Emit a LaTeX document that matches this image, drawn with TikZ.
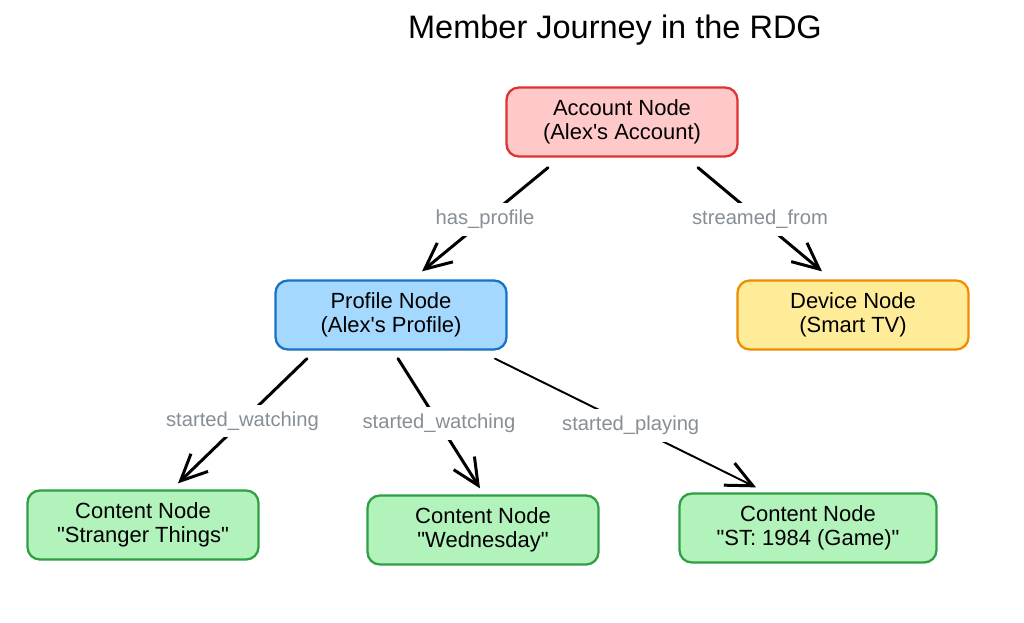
\documentclass[tikz,border=0pt]{standalone}
\usepackage{fontspec}
\setmainfont{Liberation Sans}
\usetikzlibrary{arrows.meta, positioning, calc}
\definecolor{accfill}{HTML}{FFC9C9}\definecolor{accline}{HTML}{E03131}
\definecolor{proffill}{HTML}{A5D8FF}\definecolor{profline}{HTML}{1971C2}
\definecolor{devfill}{HTML}{FFEC99}\definecolor{devline}{HTML}{F08C00}
\definecolor{contfill}{HTML}{B2F2BB}\definecolor{contline}{HTML}{2F9E44}
\definecolor{lblgray}{HTML}{868E96}
\newcommand{\qq}[1]{\textquotedbl#1\textquotedbl}
\tikzset{
  box/.style={draw, rounded corners=7pt, line width=1.3pt, align=center,
    minimum width=4.62cm, minimum height=1.38cm,
    font=\fontsize{12.5}{14}\selectfont},
  edge/.style={line width=1.7pt, line cap=round,
    -{Straight Barb[length=15pt,width=14pt,line width=1.7pt]}},
  lbl/.style={fill=white, text=lblgray, inner sep=4pt,
    font=\fontsize{11.5}{13}\selectfont},
}
\begin{document}
\begin{tikzpicture}[x=0.02cm, y=-0.02cm]
  \useasboundingbox (0,0) rectangle (1024,622);
  \node[font=\fontsize{18.5}{22}\selectfont] (title) at (615,30) {Member Journey in the RDG};
  % nodes
  \node[box, fill=accfill, draw=accline] (acc) at (622,122) {Account Node\\(Alex\textquotesingle s Account)};
  \node[box, fill=proffill, draw=profline] (prof) at (391,315) {Profile Node\\(Alex\textquotesingle s Profile)};
  \node[box, fill=devfill, draw=devline] (dev) at (853,315) {Device Node\\(Smart TV)};
  \node[box, fill=contfill, draw=contline] (st) at (143,525) {Content Node\\\qq{Stranger Things}};
  \node[box, fill=contfill, draw=contline] (wed) at (483,530) {Content Node\\\qq{Wednesday}};
  \node[box, fill=contfill, draw=contline, minimum width=5.14cm] (game) at (808,528) {Content Node\\\qq{ST: 1984 (Game)}};
  % edges
  \draw[edge] ($(acc.south)+(-74,10)$) -- node[lbl] {has\_profile} ($(prof.north)+(31,-8)$);
  \draw[edge] ($(acc.south)+(76,10)$) -- node[lbl] {streamed\_from} ($(dev.north)+(-31,-8)$);
  \draw[edge] ($(prof.south)+(-84,8)$) -- node[lbl] {started\_watching} ($(st.north)+(35,-6)$);
  \draw[edge] ($(prof.south)+(7,8)$) -- node[lbl] {started\_watching} ($(wed.north)+(-3,-6)$);
  \draw[edge, line width=1.1pt] ($(prof.south)+(104,8)$) -- node[lbl, pos=0.52] {started\_playing} ($(game.north)+(-52,-5)$);
\end{tikzpicture}
\end{document}
